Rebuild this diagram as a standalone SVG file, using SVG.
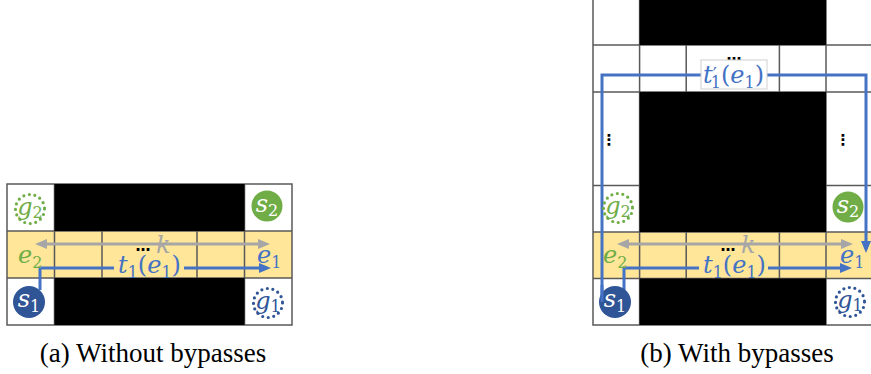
<svg xmlns="http://www.w3.org/2000/svg" width="871" height="374" viewBox="0 0 871 374">
  <style>
    .free{fill:#ffffff}
    .lane{fill:#FFE699}
    .wall{fill:#000000}
    .grid{stroke:#595959;stroke-width:1.5;fill:none}
    .path{stroke:#4472C4;stroke-width:3;fill:none}
    .span{stroke:#A6A6A6;stroke-width:3;fill:none}
    .m{font-family:"DejaVu Serif","Liberation Serif",serif;font-size:24px}
    .it{font-style:italic}
    .sub{font-size:16px;font-style:normal}
    .blue{fill:#4472C4}
    .dblue{fill:#2F5597}
    .green{fill:#70AD47}
    .grey{fill:#A6A6A6}
    .white{fill:#ffffff}
    .dots{font-family:"DejaVu Sans",sans-serif;font-size:15px;font-weight:bold;fill:#000}
    .goal{fill:#ffffff;stroke-width:3.2;stroke-dasharray:0 5.6;stroke-linecap:round}
    .cap{font-family:"Liberation Serif",serif;font-size:27px;fill:#000;text-anchor:middle}
  </style>
  <defs>
    <marker id="arrowBlue" viewBox="0 0 12 10" markerUnits="userSpaceOnUse" markerWidth="12" markerHeight="10" refX="8" refY="5" orient="auto-start-reverse">
      <path d="M0,0 L12,5 L0,10 z" fill="#4472C4"/>
    </marker>
    <marker id="arrowGrey" viewBox="0 0 12 10" markerUnits="userSpaceOnUse" markerWidth="12" markerHeight="10" refX="8" refY="5" orient="auto-start-reverse">
      <path d="M0,0 L12,5 L0,10 z" fill="#A6A6A6"/>
    </marker>
  </defs>

  <!-- (a) grid without bypasses -->
  <g id="gridA">
    <rect class="free" x="7" y="184" width="285" height="141"/>
    <rect class="lane" x="7" y="231" width="285" height="47"/>
    <path class="grid" d="M7,184 H292 V325 H7 Z M7,231 H292 M7,278 H292 M54.5,184 V325 M102,231 V278 M197,231 V278 M244.5,184 V325"/>
    <rect class="wall" x="54.5" y="184" width="190" height="47"/>
    <rect class="wall" x="54.5" y="278" width="190" height="47"/>
  </g>

  <!-- (b) grid with bypasses -->
  <g id="gridB">
    <rect class="free" x="593" y="-2" width="280" height="327"/>
    <rect class="lane" x="593" y="232" width="280" height="46.5"/>
    <path class="grid" d="M593,-2 V325 H873 M593,45 H873 M593,92 H873 M593,185.5 H873 M593,232 H873 M593,278.5 H873 M639.6,-2 V325 M826,-2 V325 M686.2,45 V92 M779.4,45 V92 M686.2,232 V278.5 M779.4,232 V278.5"/>
    <rect class="wall" x="639.6" y="-2" width="186.4" height="47"/>
    <rect class="wall" x="639.6" y="92" width="186.4" height="140"/>
    <rect class="wall" x="639.6" y="278.5" width="186.4" height="46.5"/>
    <text class="dots" x="734" y="60" text-anchor="middle">…</text>
    <text class="dots" x="609" y="145" text-anchor="middle">⋮</text>
    <text class="dots" x="843" y="145" text-anchor="middle">⋮</text>
  </g>

  <!-- connectors -->
  <g id="connectors">
    <path class="span" d="M39,244 H266" marker-start="url(#arrowGrey)" marker-end="url(#arrowGrey)"/>
    <path class="path" d="M40,290 V268 H114"/>
    <path class="path" d="M184,268 H267" marker-end="url(#arrowBlue)"/>

    <path class="span" d="M621,244 H849" marker-start="url(#arrowGrey)" marker-end="url(#arrowGrey)"/>
    <path class="path" d="M624,290 V268 H699"/>
    <path class="path" d="M768,268 H848" marker-end="url(#arrowBlue)"/>
    <path class="path" d="M602,302 V75 H866 V249" marker-end="url(#arrowBlue)"/>
  </g>

  <!-- edge labels -->
  <g id="labelsA">
    <text class="dots" x="143" y="251" text-anchor="middle">…</text>
    <text class="m it grey" x="156" y="253">k</text>
    <text class="m blue" x="118" y="273"><tspan class="it">t</tspan><tspan class="sub" dy="5">1</tspan><tspan dy="-5">(</tspan><tspan class="it">e</tspan><tspan class="sub" dy="5">1</tspan><tspan dy="-5">)</tspan></text>
    <text class="m green" x="18" y="263"><tspan class="it">e</tspan><tspan class="sub" dy="5">2</tspan></text>
    <text class="m blue" x="257" y="263"><tspan class="it">e</tspan><tspan class="sub" dy="5">1</tspan></text>
  </g>
  <g id="labelsB">
    <text class="dots" x="728" y="251" text-anchor="middle">…</text>
    <text class="m it grey" x="741" y="253">k</text>
    <text class="m blue" x="703" y="273"><tspan class="it">t</tspan><tspan class="sub" dy="5">1</tspan><tspan dy="-5">(</tspan><tspan class="it">e</tspan><tspan class="sub" dy="5">1</tspan><tspan dy="-5">)</tspan></text>
    <text class="m green" x="603" y="263"><tspan class="it">e</tspan><tspan class="sub" dy="5">2</tspan></text>
    <text class="m blue" x="840" y="263"><tspan class="it">e</tspan><tspan class="sub" dy="5">1</tspan></text>
    <rect x="701" y="60" width="66" height="29" fill="#ffffff" stroke="#d0d0d0" stroke-width="1"/>
    <text class="m blue" x="703" y="83"><tspan class="it">t</tspan><tspan dy="-2" font-size="18">′</tspan><tspan class="sub" dx="-6" dy="7">1</tspan><tspan dy="-5">(</tspan><tspan class="it">e</tspan><tspan class="sub" dy="5">1</tspan><tspan dy="-5">)</tspan></text>
  </g>

  <!-- agents and goals, panel (a) -->
  <g id="g2a">
    <circle class="goal" cx="30" cy="209" r="14.5" stroke="#70AD47"/>
    <text class="m green" x="30" y="215" text-anchor="middle"><tspan class="it">g</tspan><tspan class="sub" dy="3">2</tspan></text>
  </g>
  <g id="s2a">
    <circle cx="267" cy="206" r="15.5" fill="#70AD47"/>
    <text class="m white" x="267" y="212" text-anchor="middle"><tspan class="it">s</tspan><tspan class="sub" dy="4">2</tspan></text>
  </g>
  <g id="s1a">
    <circle cx="29" cy="302" r="16" fill="#2F5597"/>
    <text class="m white" x="29" y="307" text-anchor="middle"><tspan class="it">s</tspan><tspan class="sub" dy="5">1</tspan></text>
  </g>
  <g id="g1a">
    <circle class="goal" cx="268" cy="303" r="14.5" stroke="#2F5597"/>
    <text class="m dblue" x="268" y="309" text-anchor="middle"><tspan class="it">g</tspan><tspan class="sub" dy="3">1</tspan></text>
  </g>

  <!-- agents and goals, panel (b) -->
  <g id="g2b">
    <circle class="goal" cx="618" cy="208" r="14.5" stroke="#70AD47"/>
    <text class="m green" x="618" y="214" text-anchor="middle"><tspan class="it">g</tspan><tspan class="sub" dy="3">2</tspan></text>
  </g>
  <g id="s2b">
    <circle cx="848" cy="207" r="15.5" fill="#70AD47"/>
    <text class="m white" x="848" y="213" text-anchor="middle"><tspan class="it">s</tspan><tspan class="sub" dy="4">2</tspan></text>
  </g>
  <g id="s1b">
    <circle cx="615" cy="302" r="16" fill="#2F5597"/>
    <text class="m white" x="615" y="307" text-anchor="middle"><tspan class="it">s</tspan><tspan class="sub" dy="5">1</tspan></text>
  </g>
  <g id="g1b">
    <circle class="goal" cx="850" cy="302" r="14.5" stroke="#2F5597"/>
    <text class="m dblue" x="850" y="308" text-anchor="middle"><tspan class="it">g</tspan><tspan class="sub" dy="3">1</tspan></text>
  </g>

  <!-- the long bypass route passes over s1 in panel (b) -->
  <path class="path" d="M602,302 V285"/>

  <!-- captions -->
  <text class="cap" x="153" y="362">(a) Without bypasses</text>
  <text class="cap" x="737" y="362">(b) With bypasses</text>
</svg>
